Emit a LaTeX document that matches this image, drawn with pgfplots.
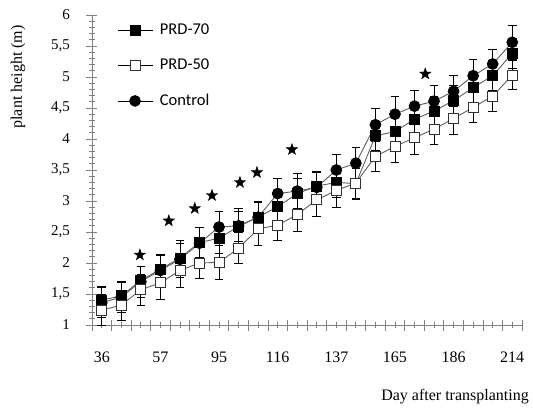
\documentclass[border=0pt]{standalone}
\usepackage{fontspec}
\setmainfont{Liberation Serif}
\newfontfamily\legfont{Carlito}
\usepackage{pgfplots}
\pgfplotsset{compat=1.18}
\usepackage{pgfplotstable}

\definecolor{axgray}{RGB}{128,128,128}
\definecolor{lngray}{RGB}{95,95,95}

% filled five-pointed star mark
\pgfdeclareplotmark{fivestar}{%
  \pgfpathmoveto{\pgfpointpolar{90}{\pgfplotmarksize}}%
  \pgfpathlineto{\pgfpointpolar{126}{0.4\pgfplotmarksize}}%
  \pgfpathlineto{\pgfpointpolar{162}{\pgfplotmarksize}}%
  \pgfpathlineto{\pgfpointpolar{198}{0.4\pgfplotmarksize}}%
  \pgfpathlineto{\pgfpointpolar{234}{\pgfplotmarksize}}%
  \pgfpathlineto{\pgfpointpolar{270}{0.4\pgfplotmarksize}}%
  \pgfpathlineto{\pgfpointpolar{306}{\pgfplotmarksize}}%
  \pgfpathlineto{\pgfpointpolar{342}{0.4\pgfplotmarksize}}%
  \pgfpathlineto{\pgfpointpolar{18}{\pgfplotmarksize}}%
  \pgfpathlineto{\pgfpointpolar{54}{0.4\pgfplotmarksize}}%
  \pgfpathclose
  \pgfusepathqfillstroke
}

% x = sampling index (labels every third one)
\pgfplotstableread{
x  ctrl ctrle p70  p70e p50  p50e
1  1.36 0.24  1.40 0.22 1.24 0.25
2  1.45 0.25  1.47 0.22 1.32 0.24
3  1.70 0.25  1.72 0.22 1.57 0.25
4  1.88 0.26  1.90 0.22 1.68 0.26
5  2.06 0.30  2.08 0.24 1.88 0.27
6  2.32 0.26  2.33 0.24 2.00 0.25
7  2.58 0.25  2.40 0.24 2.01 0.27
8  2.60 0.28  2.59 0.24 2.24 0.25
9  2.74 0.26  2.74 0.24 2.55 0.27
10 3.12 0.24  2.91 0.24 2.61 0.25
11 3.16 0.28  3.12 0.24 2.78 0.27
12 3.22 0.25  3.24 0.22 3.02 0.27
13 3.50 0.25  3.30 0.24 3.17 0.27
14 3.61 0.26  3.28 0.24 3.29 0.27
15 4.23 0.27  4.05 0.24 3.72 0.25
16 4.40 0.28  4.12 0.24 3.88 0.25
17 4.53 0.25  4.32 0.24 4.02 0.27
18 4.61 0.25  4.45 0.24 4.16 0.25
19 4.77 0.25  4.62 0.24 4.33 0.26
20 5.02 0.26  4.83 0.24 4.51 0.25
21 5.21 0.24  5.02 0.24 4.69 0.25
22 5.56 0.28  5.38 0.24 5.03 0.23
}\heights

% significance stars
\pgfplotstableread{
x     y
2.95  2.13
4.43  2.68
5.76  2.88
6.64  3.09
8.07  3.30
8.94  3.46
10.73 3.83
17.55 5.05
}\stars

\pgfplotsset{
  sCtrl/.style={draw=lngray, line width=0.9pt, mark=*, mark size=5.4pt,
    mark options={solid, fill=black, draw=black}},
  sP70/.style={draw=lngray, line width=0.9pt, mark=square*, mark size=5pt,
    mark options={solid, fill=black, draw=black}},
  sP50/.style={draw=lngray, line width=0.9pt, mark=square*, mark size=5pt,
    mark options={solid, fill=white, draw=black!80, line width=0.9pt}},
  errs/.style={
    error bars/y dir=both,
    error bars/y explicit,
    error bars/error bar style={black, line width=0.8pt, solid},
    error bars/error mark options={rotate=90, mark size=4.3pt, black, line width=0.8pt}},
}

\begin{document}
\begin{tikzpicture}
\useasboundingbox (-92pt,-83pt) rectangle (441pt,325pt);
\begin{axis}[
  scale only axis,
  width=430pt, height=310pt,
  xmin=0.5, xmax=22.5,
  ymin=1, ymax=6,
  clip=false,
  axis lines*=left,
  axis line style={draw=axgray, line width=0.8pt},
  tick style={draw=axgray, line width=0.8pt},
  tick align=center,
  xtick={0.5,1.5,...,22.5},
  xticklabels={},
  minor x tick num=1,
  extra x ticks={1,4,...,22},
  extra x tick labels={36,57,95,116,137,165,186,214},
  extra x tick style={major tick length=0pt},
  ytick={1,1.5,...,6},
  yticklabels={1,{1,5},2,{2,5},3,{3,5},4,{4,5},5,{5,5},6},
  minor y tick num=4,
  major tick length=11pt,
  minor tick length=6pt,
  xticklabel style={font=\fontsize{16}{18}\selectfont, anchor=north, yshift=-23pt},
  yticklabel style={font=\fontsize{15}{18}\selectfont, anchor=east, xshift=-13pt},
  xlabel={Day after transplanting},
  ylabel={plant height (m)},
  every axis x label/.style={at={(rel axis cs:1.024,-0.232)}, anchor=east,
    font=\fontsize{16}{18}\selectfont},
  every axis y label/.style={at={(rel axis cs:-0.172,0.8)}, anchor=center,
    rotate=90, font=\fontsize{16}{18}\selectfont},
  legend style={at={(rel axis cs:0.058,0.978)}, anchor=north west,
    draw=none, fill=none, inner sep=0pt, row sep=19pt,
    font=\legfont\fontsize{16.5}{19}\selectfont},
  legend cell align=left,
  legend image code/.code={\draw[mark repeat=2, mark phase=2, draw=black, line width=0.8pt]
    plot coordinates {(0pt,0pt) (17.5pt,0pt) (35pt,0pt)};},
]

\addplot[sCtrl, errs, forget plot] table[x=x, y=ctrl, y error=ctrle] {\heights};
\addplot[sP70, errs, forget plot] table[x=x, y=p70, y error=p70e] {\heights};
\addplot[sP50, errs, forget plot] table[x=x, y=p50, y error=p50e] {\heights};

\addplot[only marks, mark=fivestar, mark size=6pt, fill=black, draw=black, forget plot]
  table[x=x, y=y] {\stars};

\addlegendimage{sP70}
\addlegendentry{\hspace{5pt}PRD-70}
\addlegendimage{sP50}
\addlegendentry{\hspace{5pt}PRD-50}
\addlegendimage{sCtrl}
\addlegendentry{\hspace{5pt}Control}

\end{axis}
\end{tikzpicture}
\end{document}
